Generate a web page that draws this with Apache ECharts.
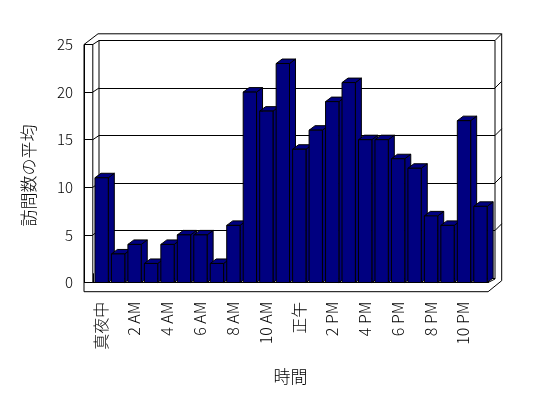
<!DOCTYPE html>
<html>
<head>
<meta charset="utf-8">
<script src="https://cdn.jsdelivr.net/npm/echarts@6/dist/echarts.min.js"></script>
<style>html,body{margin:0;padding:0;background:#fff;}#c{width:548px;height:398px;}</style>
</head>
<body>
<div id="c"></div>
<script>
var categories = ['真夜中','1 AM','2 AM','3 AM','4 AM','5 AM','6 AM','7 AM','8 AM','9 AM','10 AM','11 AM',
                  '正午','1 PM','2 PM','3 PM','4 PM','5 PM','6 PM','7 PM','8 PM','9 PM','10 PM','11 PM'];
var visits = [11, 3, 4, 2, 4, 5, 5, 2, 6, 20, 18, 23, 14, 16, 19, 21, 15, 15, 13, 12, 7, 6, 17, 8];
var yTicks = [0, 5, 10, 15, 20, 25];
var xName = '時間';
var yName = '訪問数の平均';

var FONT = '"Noto Sans CJK JP", "Noto Sans", sans-serif';
var BAR_DX = 6, BAR_DY = -4.5;
var BAR_COLOR = '#000080';

var chart = echarts.init(document.getElementById('c'), null, {renderer: 'canvas'});

function renderBar(params, api) {
  var i = api.value(0), v = api.value(1);
  var top = api.coord([i, v]);
  var bot = api.coord([i, 0]);
  var band = api.size([1, 0])[0];
  var w = band * 0.81;
  var x0 = top[0] - w / 2 + 0.6, x1 = x0 + w;
  var yt = top[1], yb = bot[1];
  var st = {fill: BAR_COLOR, stroke: '#000', lineWidth: 1};
  return {
    type: 'group',
    children: [
      {type: 'polygon', shape: {points: [[x1, yt], [x1 + BAR_DX, yt + BAR_DY], [x1 + BAR_DX, yb + BAR_DY], [x1, yb]]}, style: st},
      {type: 'polygon', shape: {points: [[x0, yt], [x1, yt], [x1 + BAR_DX, yt + BAR_DY], [x0 + BAR_DX, yt + BAR_DY]]}, style: st},
      {type: 'rect', shape: {x: x0, y: yt, width: w, height: yb - yt}, style: st}
    ]
  };
}

var option = {
  animation: false,
  backgroundColor: '#fff',
  grid: [
    {left: 92.8, right: 59.9, top: 44.5, bottom: 115.5},
    {left: 99, right: 53, top: 40.5, bottom: 120}
  ],
  xAxis: [
    {
      type: 'category', gridIndex: 0, data: categories, position: 'bottom', offset: 9.2,
      axisLine: {show: true, lineStyle: {color: '#000', width: 1}},
      axisTick: {show: true, inside: true, length: 9.2, interval: 0, lineStyle: {color: '#000'}},
      axisLabel: {interval: 1, rotate: 90, margin: 10, color: '#000', fontFamily: FONT, fontSize: 16, fontWeight: 300},
      name: xName, nameLocation: 'middle', nameGap: 76,
      nameTextStyle: {color: '#000', fontFamily: FONT, fontSize: 17, fontWeight: 300},
      splitLine: {show: false}, z: 3
    },
    {type: 'value', gridIndex: 1, show: false, min: 0, max: 1}
  ],
  yAxis: [
    {
      type: 'value', gridIndex: 0, min: 0, max: 25, interval: 5, offset: 8.8,
      axisLine: {show: true, lineStyle: {color: '#000', width: 1}},
      axisTick: {show: true, inside: true, length: 8.8, lineStyle: {color: '#000'}},
      axisLabel: {margin: 11, color: '#000', fontFamily: FONT, fontSize: 15, fontWeight: 300,
        formatter: function (v) { return yTicks.indexOf(v) >= 0 ? String(v) : ''; }},
      splitLine: {show: false},
      name: yName, nameLocation: 'middle', nameGap: 47,
      nameTextStyle: {color: '#000', fontFamily: FONT, fontSize: 17, fontWeight: 300, padding: [0, 24, 0, 0]}
    },
    {
      type: 'value', gridIndex: 1, min: 0, max: 25, interval: 5,
      axisLine: {show: false}, axisTick: {show: false}, axisLabel: {show: false},
      splitLine: {show: true, lineStyle: {color: '#000', width: 1}}
    }
  ],
  series: [{
    type: 'custom', xAxisIndex: 0, yAxisIndex: 0,
    renderItem: renderBar,
    data: visits.map(function (v, i) { return [i, v]; }),
    encode: {x: 0, y: 1},
    clip: false, z: 5
  }]
};
chart.setOption(option);

// frame / walls derived from axis positions
(function () {
  var c0 = chart.convertToPixel({xAxisIndex: 0}, 0);
  var c1 = chart.convertToPixel({xAxisIndex: 0}, 1);
  var band = c1 - c0;
  var gx0 = c0 - band / 2;
  var gx1 = gx0 + band * categories.length;
  var fy0 = chart.convertToPixel({yAxisIndex: 0}, 0);
  var fy25 = chart.convertToPixel({yAxisIndex: 0}, 25);
  var by0 = chart.convertToPixel({yAxisIndex: 1}, 0);
  var by25 = chart.convertToPixel({yAxisIndex: 1}, 25);
  var bx0 = chart.convertToPixel({xAxisIndex: 1}, 0);
  var bx1 = chart.convertToPixel({xAxisIndex: 1}, 1);
  var outerL = gx0 - 8.8;
  var floorB = fy0 + 9.2;
  var wallT = 6.7;
  var ln = {stroke: '#000', lineWidth: 1, fill: null};
  var els = [];
  function pl(pts, z) { els.push({type: 'polyline', shape: {points: pts}, style: ln, z: z || 1, silent: true}); }
  pl([[outerL, fy25], [bx0 - 1, by25 - wallT], [bx1 + wallT, by25 - wallT], [bx1 + wallT, by0 + 2.7], [gx1, floorB], [outerL, floorB], [outerL, fy25]], 1);
  pl([[outerL, fy25], [gx0, fy25], [gx0, fy0]], 1);
  pl([[gx0, fy25], [bx0, by25], [bx1, by25], [bx1 + wallT, by25 - wallT]], 1);
  pl([[bx0, by25], [bx0, by0]], 1);
  pl([[bx1, by25], [bx1, by0 + 1]], 1);
  pl([[gx0, fy0], [gx1, fy0], [bx1, by0 + 1]], 1);
  yTicks.forEach(function (t) {
    if (t === 0 || t === 25) return;
    var fy = chart.convertToPixel({yAxisIndex: 0}, t);
    var by = chart.convertToPixel({yAxisIndex: 1}, t);
    pl([[gx0, fy], [bx0, by]], 1);
    pl([[bx1, by], [bx1 + wallT, by - wallT]], 1);
  });
  chart.setOption({graphic: els});
})();
</script>
</body>
</html>
